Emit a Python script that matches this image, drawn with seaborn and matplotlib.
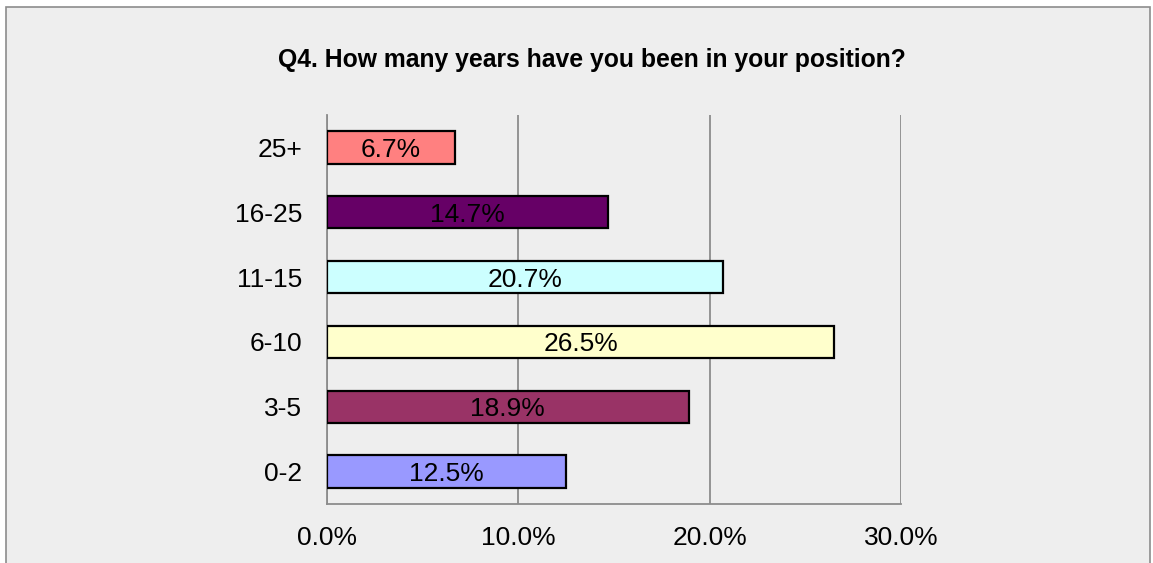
import pandas as pd
import seaborn as sns
import matplotlib.pyplot as plt
import matplotlib.patches as mpatches
from matplotlib.ticker import FixedLocator, FuncFormatter

# survey answers, top to bottom as shown
years = ["25+", "16-25", "11-15", "6-10", "3-5", "0-2"]
share = [6.7, 14.7, 20.7, 26.5, 18.9, 12.5]
bar_colors = ["#ff8080", "#660066", "#ccffff", "#ffffcc", "#993366", "#9999ff"]

df = pd.DataFrame({"years": years, "share": share})

sns.set_style("white")
plt.rcParams['font.family'] = ['Liberation Sans', 'DejaVu Sans']
plt.rcParams['text.color'] = 'black'
plt.rcParams['xtick.color'] = 'black'
plt.rcParams['ytick.color'] = 'black'

fig = plt.figure(figsize=(11.53, 5.63), dpi=100)
fig.patch.set_facecolor("white")

# grey chart area with a thin frame (cut off at the bottom)
frame = mpatches.Rectangle((6 / 1153, -0.05), 1144 / 1153, 1 - 7 / 563 + 0.05,
                           transform=fig.transFigure, facecolor="#eeeeee",
                           edgecolor="#8c8c8c", linewidth=1.2, zorder=-5)
fig.patches.append(frame)

ax = fig.add_axes([327 / 1153, 1 - 504 / 563, (901 - 327) / 1153, (504 - 115) / 563])
ax.set_facecolor("#eeeeee")

sns.barplot(data=df, x="share", y="years", hue="years", order=years,
            palette=dict(zip(years, bar_colors)), saturation=1, legend=False,
            orient="h", width=0.5, edgecolor="black", linewidth=1.6, ax=ax, zorder=3)

for i, v in enumerate(share):
    ax.text(v / 2, i, f"{v:.1f}%", ha="center", va="center_baseline",
            fontsize=19, color="black", zorder=4)

ax.set_xlim(0, 30)
ax.set_ylim(5.5, -0.5)
ax.xaxis.set_major_locator(FixedLocator([0, 10, 20, 30]))
ax.xaxis.set_major_formatter(FuncFormatter(lambda x, p: f"{x:.1f}%"))
ax.grid(axis="x", color="#8c8c8c", linewidth=1.3, zorder=1)
ax.set_axisbelow(True)

ax.yaxis.set_minor_locator(FixedLocator([i - 0.5 for i in range(7)]))
ax.tick_params(axis="y", which="major", length=0, labelsize=19, pad=18)
ax.tick_params(axis="y", which="minor", length=7, width=1.3, color="#8c8c8c", direction="out")
ax.tick_params(axis="x", which="major", length=7, width=1.3, color="#8c8c8c",
               labelcolor="black", direction="out", labelsize=19, pad=9)

for side in ["top", "right"]:
    ax.spines[side].set_visible(False)
for side in ["left", "bottom"]:
    ax.spines[side].set_color("#8c8c8c")
    ax.spines[side].set_linewidth(1.3)

ax.set_xlabel("")
ax.set_ylabel("")

fig.text(592 / 1153, 1 - 60 / 563, "Q4. How many years have you been in your position?",
         ha="center", va="center", fontsize=17.8, fontweight="bold", color="black")

fig.savefig("out.png", dpi=100, facecolor="white")
